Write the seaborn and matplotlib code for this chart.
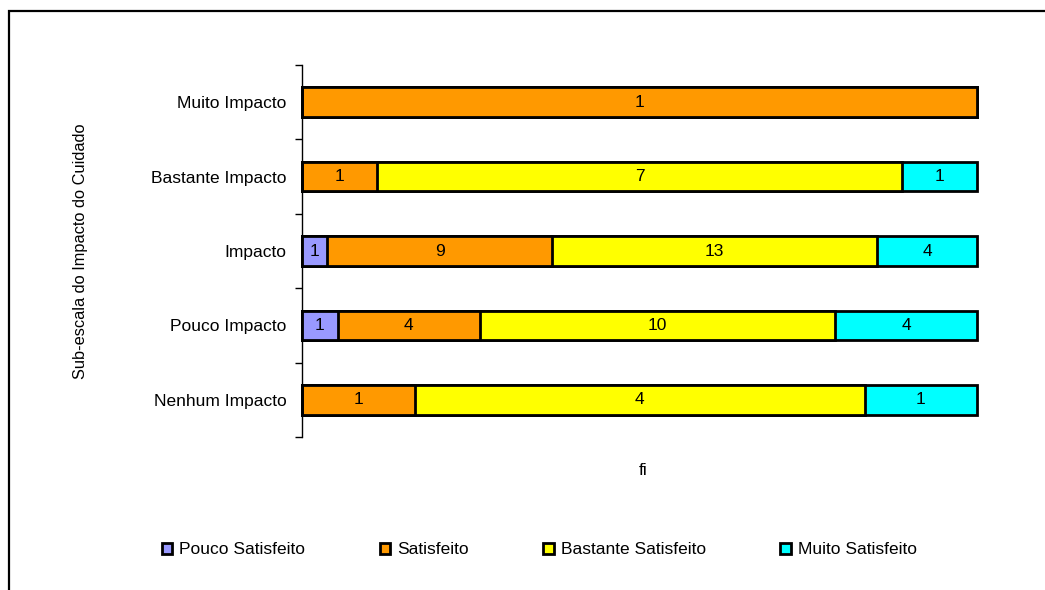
import numpy as np
import pandas as pd
import matplotlib
matplotlib.use("Agg")
import matplotlib.pyplot as plt
from matplotlib.patches import Patch, Rectangle
import seaborn as sns

# Impact sub-scale categories (top to bottom) and satisfaction counts per category
categories = ["Muito Impacto", "Bastante Impacto", "Impacto", "Pouco Impacto", "Nenhum Impacto"]
series_names = ["Pouco Satisfeito", "Satisfeito", "Bastante Satisfeito", "Muito Satisfeito"]
pouco_satisfeito = [0, 0, 1, 1, 0]
satisfeito = [1, 1, 9, 4, 1]
bastante_satisfeito = [0, 7, 13, 10, 4]
muito_satisfeito = [0, 1, 4, 4, 1]
colors = ["#9999FF", "#FF9900", "#FFFF00", "#00FFFF"]

sns.set_theme(style="white")
plt.rcParams["font.family"] = ["Liberation Sans", "DejaVu Sans"]
plt.rcParams["text.color"] = "black"
FS = 12.5

counts = np.array([pouco_satisfeito, satisfeito, bastante_satisfeito, muito_satisfeito], dtype=float)
totals = counts.sum(axis=0)
shares = counts / totals
cum = np.cumsum(shares, axis=0)

fig = plt.figure(figsize=(10.45, 5.9), dpi=100)
ax = fig.add_axes([302 / 1045, 1 - 437 / 590, 675 / 1045, 372 / 590])

# Stacked 100% bars: draw cumulative shares from the widest layer down
for i in range(len(series_names) - 1, -1, -1):
    df = pd.DataFrame({"categoria": categories, "acumulado": cum[i]})
    sns.barplot(data=df, x="acumulado", y="categoria", order=categories,
                color=colors[i], saturation=1, edgecolor="black", linewidth=2,
                width=0.4, errorbar=None, ax=ax)

for p in ax.patches:
    p.set_clip_on(False)

# Count labels centred on each segment
for i in range(len(series_names)):
    starts = cum[i] - shares[i]
    for j, cat in enumerate(categories):
        if counts[i, j] > 0:
            ax.text(starts[j] + shares[i, j] / 2, j, f"{int(counts[i, j])}",
                    ha="center", va="center", fontsize=FS, color="black")

ax.set_xlim(0, 1)
ax.set_ylim(len(categories) - 0.5, -0.5)
ax.set_xticks([])
ax.set_yticks(range(len(categories)))
ax.set_yticklabels(categories, fontsize=FS)
ax.set_yticks(np.arange(-0.5, len(categories), 1.0), minor=True)
ax.tick_params(axis="y", which="major", length=0, pad=11, colors="black")
ax.tick_params(axis="y", which="minor", length=5, width=1, color="black", direction="out", left=True)
for s in ["top", "right", "bottom"]:
    ax.spines[s].set_visible(False)
ax.spines["left"].set_color("black")
ax.spines["left"].set_linewidth(1)

ax.set_ylabel("Sub-escala do Impacto do Cuidado", fontsize=11.8, color="black")
ax.yaxis.set_label_coords(-0.317, 0.5)
ax.set_xlabel("fi", fontsize=FS, color="black")
ax.xaxis.set_label_coords(0.505, -0.07)

handles = [Patch(facecolor=c, edgecolor="black", linewidth=2) for c in colors]
leg = fig.legend(handles, series_names, loc="center", bbox_to_anchor=(0.516, 1 - 550 / 590),
                 ncol=4, frameon=False, fontsize=FS, handlelength=0.6, handleheight=0.6,
                 handletextpad=0.4, columnspacing=4.3)
for t in leg.get_texts():
    t.set_color("black")

# Outer chart frame
fig.patches.append(Rectangle((9 / 1045, -0.1), 1.2, 1 - 11 / 590 + 0.1,
                             transform=fig.transFigure, fill=False,
                             edgecolor="black", linewidth=1.6))

fig.savefig("out.png", dpi=100)
